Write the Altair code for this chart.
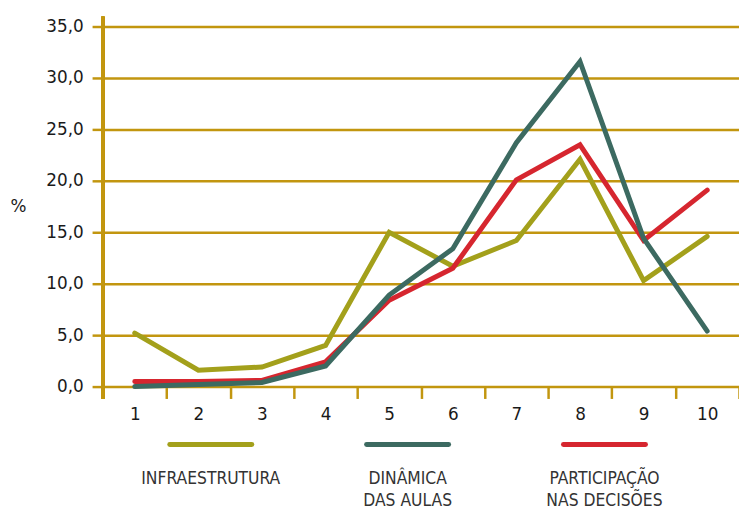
import altair as alt
import pandas as pd

# ---- data ----
categories = [1, 2, 3, 4, 5, 6, 7, 8, 9, 10]
infraestrutura = [5.2, 1.6, 1.9, 4.0, 15.0, 11.7, 14.2, 22.1, 10.3, 14.6]
dinamica = [0.0, 0.2, 0.4, 2.0, 8.9, 13.4, 23.7, 31.6, 14.4, 5.4]
participacao = [0.5, 0.5, 0.6, 2.4, 8.4, 11.5, 20.1, 23.5, 14.2, 19.1]
series_keys = ["Infraestrutura", "Dinâmica das aulas", "Participação nas decisões"]
legend_labels = ["INFRAESTRUTURA", "DINÂMICA\nDAS AULAS", "PARTICIPAÇÃO\nNAS DECISÕES"]
y_ticks = [0, 5, 10, 15, 20, 25, 30, 35]

# ---- style ----
GOLD = "#c2960f"
COLORS = ["#a3a01b", "#3c6a61", "#d6262f"]
TICK_FONT = "DejaVu Sans"
LEGEND_FONT = "DejaVu Sans Condensed, Noto Sans"

# ---- layout (pixels) ----
PLOT_W = 643
PLOT_H = 498
PAD_LEFT = 96
PX_PER_UNIT = 10.4
ZERO_PX = 380            # y pixel of value 0 inside plot area
Y_MAX = ZERO_PX / PX_PER_UNIT
Y_MIN = Y_MAX - PLOT_H / PX_PER_UNIT

rows = []
for key, vals in zip(series_keys, [infraestrutura, dinamica, participacao]):
    for c, v in zip(categories, vals):
        rows.append({"cat": c, "value": v, "series": key})
df = pd.DataFrame(rows)

# legend positions in category units
leg_centers = [2.195, 5.29, 8.385]
half = 0.645
leg_df = pd.DataFrame({
    "series": series_keys,
    "label": legend_labels,
    "lx": [c - half for c in leg_centers],
    "lx2": [c + half for c in leg_centers],
    "lc": leg_centers,
    "ly": [-(446.5 - 8 - ZERO_PX) / PX_PER_UNIT] * 3,
    "ty": [-(472 - 8 - ZERO_PX) / PX_PER_UNIT] * 3,
})

yscale = alt.Scale(domain=[Y_MIN, Y_MAX], nice=False, zero=False)
cscale = alt.Scale(domain=series_keys, range=COLORS)

x_axis = alt.Axis(
    title=None, tickBand="extent", tickSize=12, tickWidth=2.5, tickColor=GOLD,
    domain=False, grid=False, labelAngle=0, labelFont=TICK_FONT, labelFontSize=17,
    labelColor="#1a1a1a", labelPadding=8, offset=-(PLOT_H - ZERO_PX),
)
y_axis = alt.Axis(
    values=y_ticks, title="%", titleAngle=0, titleX=-86, titleY=198,
    titleAlign="center", titleBaseline="middle", titleFont=TICK_FONT,
    titleFontSize=17, titleFontWeight="normal", titleColor="#1a1a1a",
    labelExpr="replace(format(datum.value, '.1f'), '.', ',')",
    labelFont=TICK_FONT, labelFontSize=17, labelColor="#1a1a1a", labelPadding=9,
    tickSize=11, tickWidth=2.5, tickColor=GOLD, domain=False,
    grid=True, gridColor=GOLD, gridWidth=2.5,
)

base = alt.Chart(df)

def line_layer(key):
    return base.transform_filter(alt.datum.series == key).mark_line(
        strokeWidth=5, strokeJoin="miter", strokeCap="round"
    ).encode(
        x=alt.X("cat:O", scale=alt.Scale(domain=categories, paddingInner=0, paddingOuter=0),
                axis=x_axis),
        y=alt.Y("value:Q", scale=yscale, axis=y_axis),
        color=alt.Color("series:N", scale=cscale, legend=None),
    )

lines = alt.layer(line_layer(series_keys[0]), line_layer(series_keys[2]),
                  line_layer(series_keys[1]))

y_domain_line = alt.Chart(df).mark_rule(color=GOLD, strokeWidth=2.5).encode(
    x=alt.value(0), y=alt.value(6), y2=alt.value(392)
)

legx = alt.Scale(domain=[0.5, 10.5], nice=False, zero=False)
leg_rule = alt.Chart(leg_df).mark_rule(strokeWidth=5, strokeCap="round").encode(
    x=alt.X("lx:Q", scale=legx, axis=None),
    x2="lx2:Q",
    y=alt.Y("ly:Q", scale=yscale, axis=y_axis),
    color=alt.Color("series:N", scale=cscale, legend=None),
)
leg_text = alt.Chart(leg_df).mark_text(
    font=LEGEND_FONT, fontSize=17.5, color="#333333", lineBreak="\n",
    lineHeight=23, baseline="top", align="center",
).encode(
    x=alt.X("lc:Q", scale=legx, axis=None),
    y=alt.Y("ty:Q", scale=yscale, axis=y_axis),
    text="label:N",
)
legend = alt.layer(leg_rule, leg_text)

chart = alt.layer(lines, y_domain_line, legend).resolve_scale(
    x="independent"
).properties(
    width=PLOT_W, height=PLOT_H,
    autosize=alt.AutoSizeParams(type="none"),
    padding={"left": PAD_LEFT, "top": 0, "right": 0, "bottom": 0},
    background="white",
).configure_view(stroke=None)

chart.save("out.html", embed_options={"renderer": "svg", "actions": False})
